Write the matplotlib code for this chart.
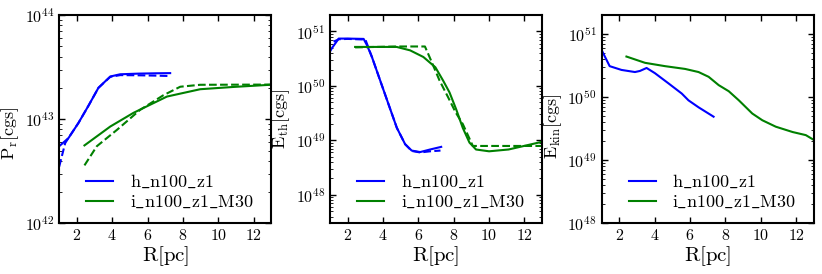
import numpy as np
import matplotlib
matplotlib.use('Agg')
import matplotlib.pyplot as plt

plt.rcParams['font.family'] = 'serif'
plt.rcParams['font.serif'] = ['cmr10']
plt.rcParams['mathtext.fontset'] = 'cm'
plt.rcParams['axes.formatter.use_mathtext'] = True
plt.rcParams['xtick.direction'] = 'in'
plt.rcParams['ytick.direction'] = 'in'
plt.rcParams['xtick.top'] = True
plt.rcParams['ytick.right'] = True

# radiation pressure P_r
pr_h_x = [1.0, 1.53, 2.09, 2.66, 3.22, 3.89, 4.45, 5.5, 6.5, 7.28]
pr_h = [5.5e42, 6.6e42, 9.2e42, 1.35e43, 2.0e43, 2.57e43, 2.7e43, 2.74e43, 2.76e43, 2.77e43]
pr_h_d_x = [1.0, 1.34, 1.6, 2.09, 2.66, 3.22, 3.89, 4.45, 5.5, 6.5, 7.2]
pr_h_d = [3.5e42, 5.9e42, 6.9e42, 9.2e42, 1.35e43, 2.0e43, 2.55e43, 2.65e43, 2.64e43, 2.62e43, 2.6e43]
pr_i_x = [2.43, 3.89, 5.2, 7.1, 8.98, 10.86, 12.94]
pr_i = [5.6e42, 8.5e42, 1.15e43, 1.65e43, 1.94e43, 2.04e43, 2.14e43]
pr_i_d_x = [2.43, 3.13, 4.27, 5.58, 6.9, 7.85, 8.98, 13.0]
pr_i_d = [3.6e42, 5.5e42, 7.9e42, 1.23e43, 1.7e43, 2.05e43, 2.14e43, 2.15e43]

# thermal energy E_th
eth_h_x = [1.0, 1.1, 1.49, 2.0, 2.9, 3.09, 3.37, 3.84, 4.31, 4.78, 5.25, 5.62, 6.1, 6.66, 7.29]
eth_h = [4.3e50, 4.9e50, 7.4e50, 7.4e50, 7.3e50, 5.6e50, 3.4e50, 1.25e50, 4.6e49, 1.7e49,
         8.5e48, 6.5e48, 6.1e48, 6.8e48, 7.6e48]
eth_h_d_x = [1.2, 1.5, 2.0, 3.0, 3.12, 3.37, 3.84, 4.31, 4.78, 5.25, 5.62, 6.1, 6.66, 7.25]
eth_h_d = [6.5e50, 7.2e50, 7.3e50, 7.1e50, 5.6e50, 3.4e50, 1.25e50, 4.6e49, 1.7e49, 8.5e48,
           6.4e48, 6.0e48, 6.3e48, 6.5e48]
eth_i_x = [2.42, 4.77, 5.53, 6.28, 6.96, 7.4, 7.76, 8.14, 8.51, 8.89, 9.26, 10.0, 11.1, 12.8, 13.0]
eth_i = [5.2e50, 5.2e50, 4.5e50, 3.4e50, 2.2e50, 1.25e50, 7.6e49, 3.7e49, 1.7e49, 9.1e48,
         6.8e48, 6.3e48, 6.8e48, 9.1e48, 9.5e48]
eth_i_d_x = [2.42, 4.77, 6.37, 6.63, 7.2, 7.68, 8.1, 8.51, 9.08, 10.0, 13.0]
eth_i_d = [5.1e50, 5.3e50, 5.3e50, 3.4e50, 1.25e50, 6.2e49, 3.3e49, 2.0e49, 7.9e48, 7.9e48, 7.9e48]

# kinetic energy E_kin
ekin_h_x = [1.02, 1.45, 2.12, 2.88, 3.16, 3.54, 4.01, 4.77, 5.53, 5.91, 6.48, 7.33]
ekin_h = [5.4e50, 3.1e50, 2.7e50, 2.5e50, 2.6e50, 2.9e50, 2.4e50, 1.66e50, 1.14e50, 8.9e49,
          6.9e49, 4.9e49]
ekin_i_x = [2.4, 3.45, 4.58, 5.72, 6.48, 7.05, 7.62, 8.19, 8.76, 9.52, 10.09, 10.85, 11.8,
            12.55, 13.0]
ekin_i = [4.4e50, 3.5e50, 3.1e50, 2.8e50, 2.5e50, 2.1e50, 1.55e50, 1.24e50, 8.9e49, 5.5e49,
          4.3e49, 3.4e49, 2.8e49, 2.5e49, 2.1e49]

labels = [r'$\mathrm{h\_n100\_z1}$', r'$\mathrm{i\_n100\_z1\_M30}$']
ylabels = [r'$\mathrm{P_r[cgs]}$', r'$\mathrm{E_{th}[cgs]}$', r'$\mathrm{E_{kin}[cgs]}$']
ylabel_y = [0.43, 0.50, 0.465]

fig = plt.figure(figsize=(8.22, 2.74), dpi=100)
lefts = [0.072, 0.4015, 0.732]
axes = [fig.add_axes([l, 0.185, 0.258, 0.76]) for l in lefts]

ax = axes[0]
ax.semilogy(pr_h_x, pr_h, 'b-', lw=1.5, label=labels[0])
ax.semilogy(pr_h_d_x, pr_h_d, 'b--', lw=1.5)
ax.semilogy(pr_i_x, pr_i, 'g-', lw=1.5, label=labels[1])
ax.semilogy(pr_i_d_x, pr_i_d, 'g--', lw=1.5)
ax.set_ylim(1e42, 1e44)

ax = axes[1]
ax.semilogy(eth_h_x, eth_h, 'b-', lw=1.5, label=labels[0])
ax.semilogy(eth_h_d_x, eth_h_d, 'b--', lw=1.5)
ax.semilogy(eth_i_x, eth_i, 'g-', lw=1.5, label=labels[1])
ax.semilogy(eth_i_d_x, eth_i_d, 'g--', lw=1.5)
ax.set_ylim(3e47, 2e51)

ax = axes[2]
ax.semilogy(ekin_h_x, ekin_h, 'b-', lw=1.5, label=labels[0])
ax.semilogy(ekin_i_x, ekin_i, 'g-', lw=1.5, label=labels[1])
ax.set_ylim(1e48, 2e51)

for ax, yl, yy in zip(axes, ylabels, ylabel_y):
    ax.set_xlim(1, 13)
    ax.set_xticks([2, 4, 6, 8, 10, 12])
    ax.set_xlabel(r'$\mathrm{R[pc]}$', fontsize=15, labelpad=1)
    ax.set_ylabel(yl, fontsize=13)
    ax.yaxis.set_label_coords(-0.178, yy)
    ax.tick_params(labelsize=11.5, width=1, length=4)
    ax.tick_params(which='minor', length=2)
    for s in ax.spines.values():
        s.set_linewidth(1.5)
    ax.legend(loc='lower right', bbox_to_anchor=(1.0, -0.025), frameon=False, fontsize=13,
              handlelength=1.5, handletextpad=0.9, labelspacing=0.2, borderaxespad=0.6)

fig.savefig('out.png', dpi=100)
